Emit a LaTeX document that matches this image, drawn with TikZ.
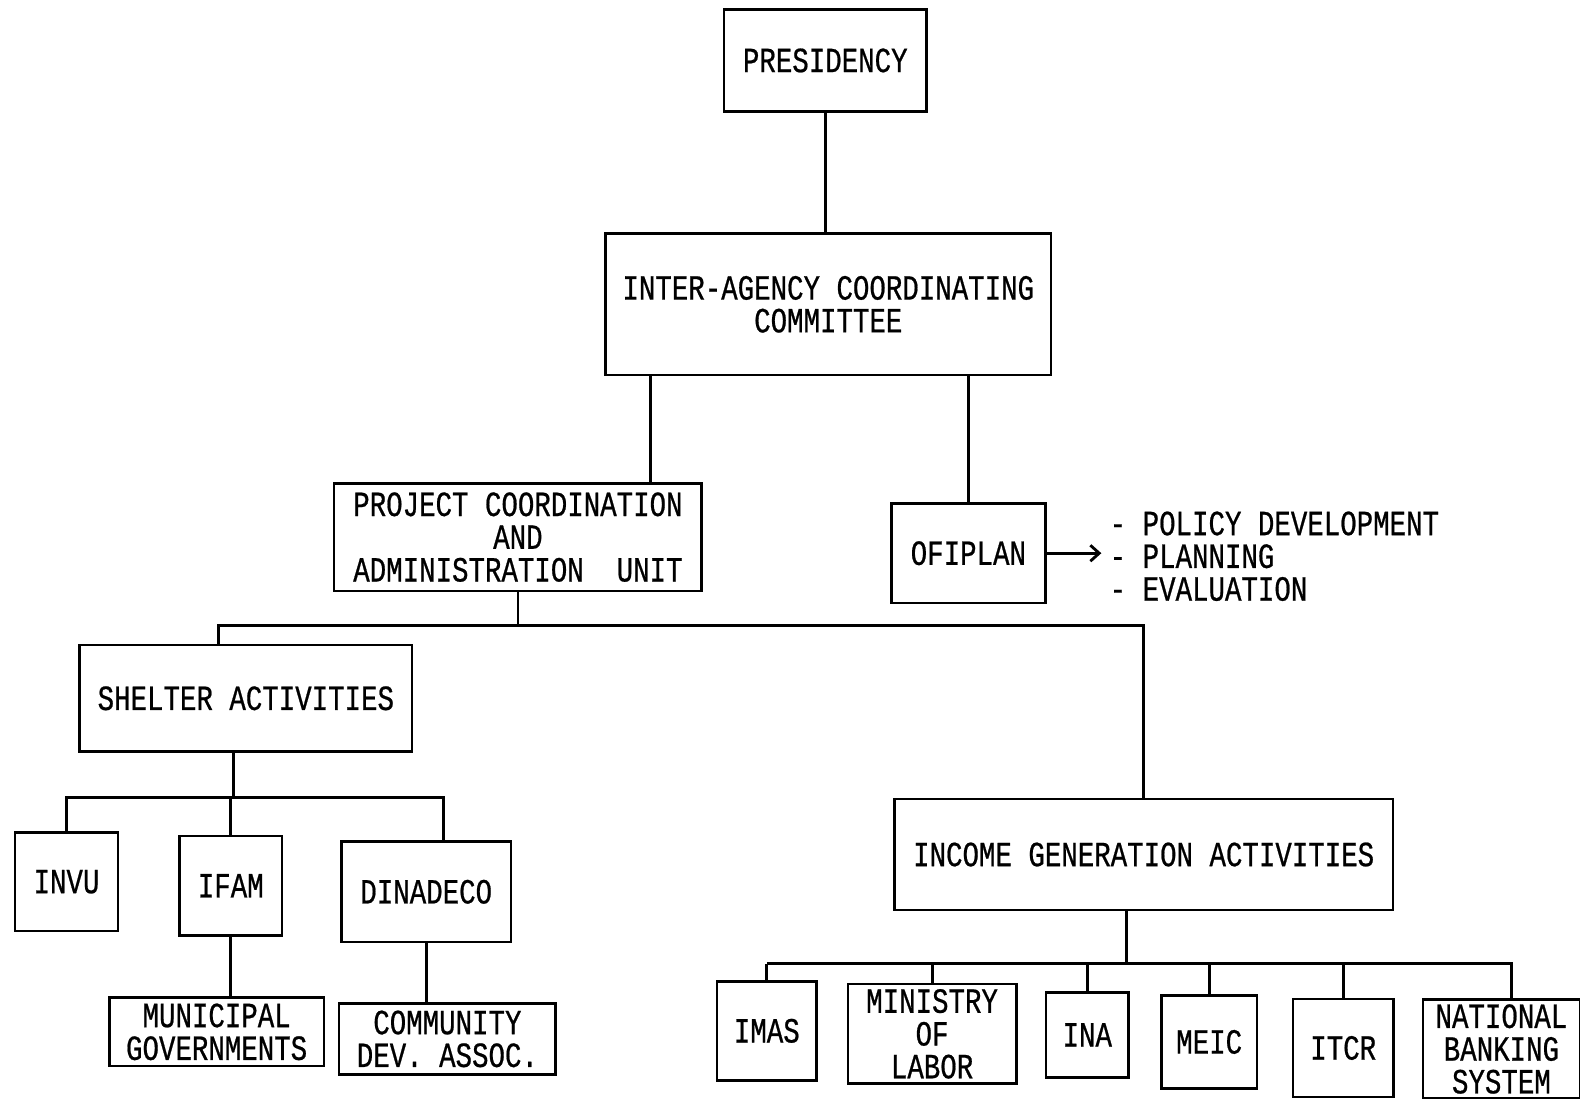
\documentclass[tikz,border=0pt]{standalone}
\usepackage{fontspec}
\usepackage{tikz}
\usetikzlibrary{arrows.meta}
\newfontfamily\typewr[FakeStretch=0.775,FakeBold=0.6]{Liberation Mono}
\tikzstyle{unit}=[draw, line width=1.5pt, inner sep=0pt, align=center,
  font=\typewr\fontsize{20pt}{18.5pt}\selectfont]
\tikzstyle{link}=[line width=1.6pt]
\tikzstyle{feeds}=[link, -{Straight Barb[length=5pt,width=9pt]}]

\begin{document}
\begin{tikzpicture}[x=0.02cm, y=-0.02cm]
	\useasboundingbox (0,0) rectangle (1568,1090);
	% top of the chart
	\node[unit, minimum width=4.02cm, minimum height=2.02cm] (pres) at (819,60) {PRESIDENCY};
	\node[unit, minimum width=8.84cm, minimum height=2.80cm] (iacc) at (822,302) {INTER-AGENCY COORDINATING\\COMMITTEE};
	\node[unit, minimum width=7.30cm, minimum height=2.14cm] (pcau) at (514,533) {PROJECT COORDINATION\\AND\\ADMINISTRATION\ \ UNIT};
	\node[unit, minimum width=3.06cm, minimum height=1.98cm] (ofip) at (961,549) {OFIPLAN};
	\node[unit, draw=none, align=left, anchor=west] (tasks) at (1100,552) {- POLICY DEVELOPMENT\\- PLANNING\\- EVALUATION};
	% the two branches
	\node[unit, minimum width=6.60cm, minimum height=2.12cm] (shel) at (244,693) {SHELTER ACTIVITIES};
	\node[unit, minimum width=9.90cm, minimum height=2.20cm] (inco) at (1135,848) {INCOME GENERATION ACTIVITIES};
	\node[unit, minimum width=2.04cm, minimum height=1.96cm] (invu) at (66,875) {INVU};
	\node[unit, minimum width=2.04cm, minimum height=1.98cm] (ifam) at (229,879) {IFAM};
	\node[unit, minimum width=3.36cm, minimum height=2.00cm] (dina) at (423,885) {DINADECO};
	\node[unit, minimum width=4.26cm, minimum height=1.36cm] (muni) at (215,1024) {MUNICIPAL\\GOVERNMENTS};
	\node[unit, minimum width=4.30cm, minimum height=1.40cm] (comm) at (444,1031) {COMMUNITY\\DEV. ASSOC.};
	\node[unit, minimum width=1.98cm, minimum height=1.96cm] (imas) at (761,1023) {IMAS};
	\node[unit, minimum width=3.34cm, minimum height=1.98cm] (mini) at (925,1026) {MINISTRY\\OF\\LABOR};
	\node[unit, minimum width=1.64cm, minimum height=1.68cm] (ina)  at (1079,1027) {INA};
	\node[unit, minimum width=1.90cm, minimum height=1.84cm] (meic) at (1200,1034) {MEIC};
	\node[unit, minimum width=2.00cm, minimum height=1.94cm] (itcr) at (1333,1040) {ITCR};
	\node[unit, minimum width=3.12cm, minimum height=1.96cm] (natl) at (1490,1041) {NATIONAL\\BANKING\\SYSTEM};

	\draw[link] (pres) -- (pres |- iacc.north);
	\draw[link] ([xshift=-1.04cm]pcau.north east) -- ([xshift=-1.04cm]pcau.north east |- iacc.south);
	\draw[link] (ofip.north) -- (ofip.north |- iacc.south);
	\draw[feeds, shorten >=4pt] (ofip.east) -- (ofip.east -| tasks.west);

	\draw[link] (pcau.south) -- ++(0,33) coordinate (j1);
	\draw[link] ([xshift=-0.54cm]shel.north) |- (j1) -| (inco.north);

	\draw[link] ([xshift=-0.24cm]shel.south) -- ++(0,44) coordinate (j2);
	\draw[link] (invu.north) |- (j2) -| ([xshift=0.34cm]dina.north);
	\draw[link] (ifam.north) -- (ifam.north |- j2);
	\draw[link] (ifam.south) -- (ifam.south |- muni.north);
	\draw[link] (dina.south) -- (dina.south |- comm.north);

	\draw[link] ([xshift=-0.34cm]inco.south) -- ++(0,52) coordinate (j3);
	\draw[link] (imas.north |- j3) -- ([xshift=0.2cm]natl.north |- j3) -- ([xshift=0.2cm]natl.north);
	\foreach \n in {imas,mini,ina,meic,itcr}
		\draw[link] (\n.north) -- (\n.north |- j3);
\end{tikzpicture}
\end{document}
